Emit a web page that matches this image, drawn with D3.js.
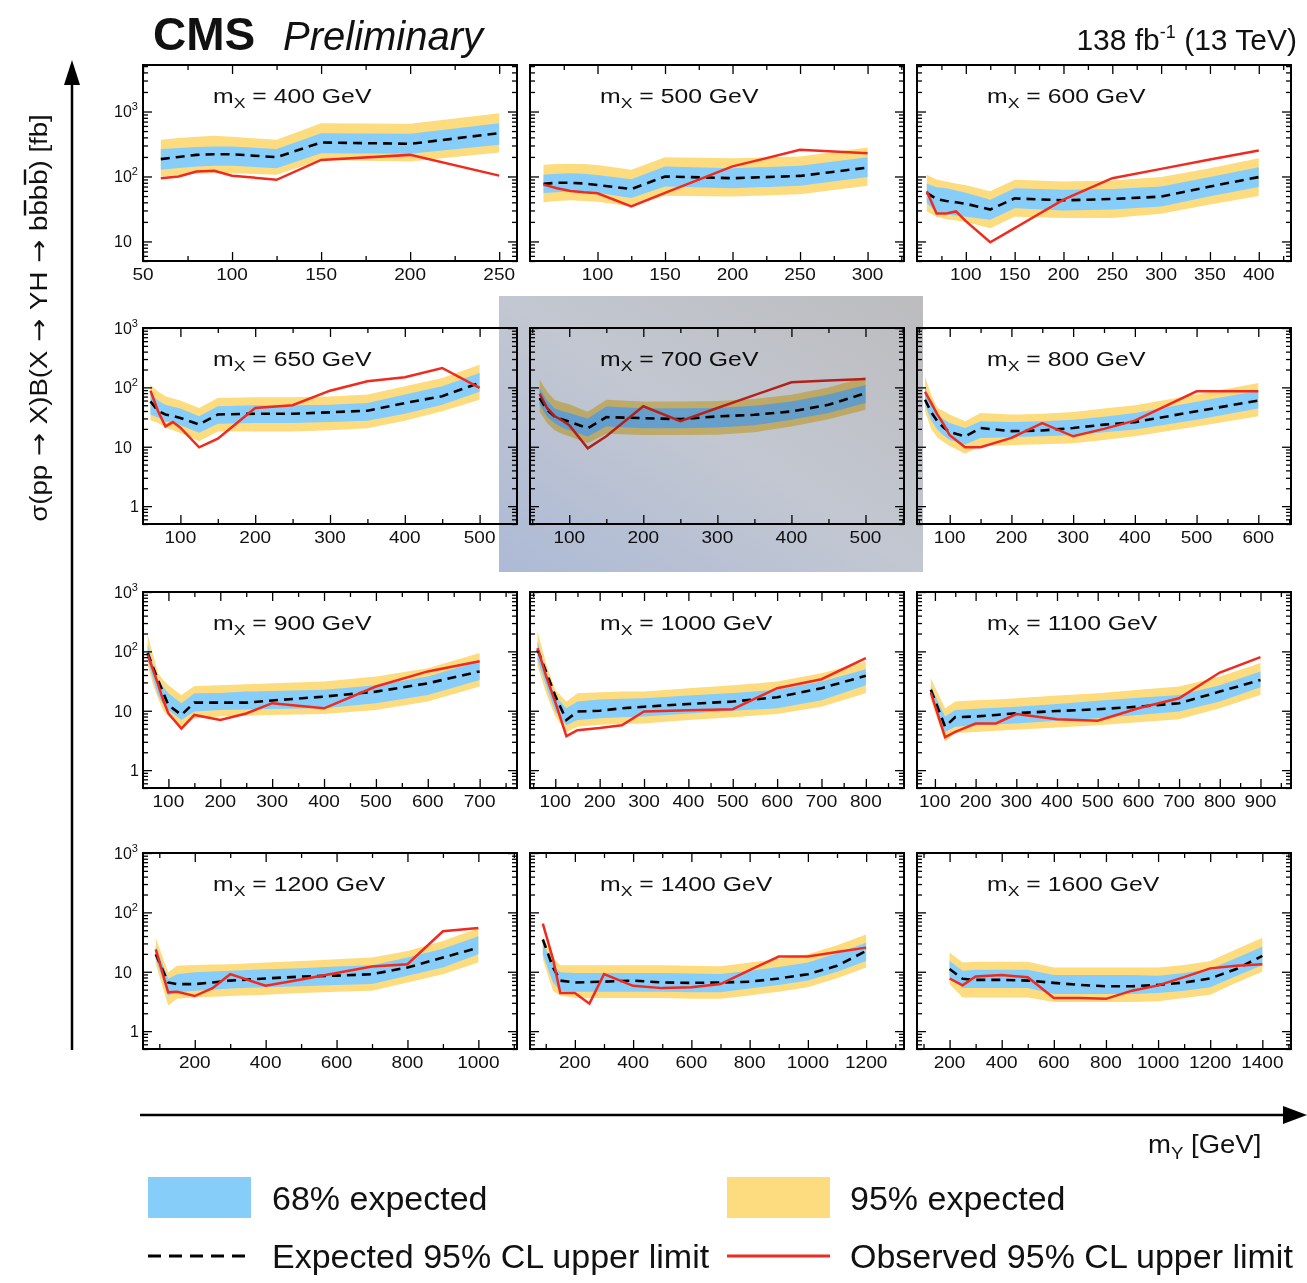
<!DOCTYPE html>
<html>
<head>
<meta charset="utf-8">
<script src="https://cdn.jsdelivr.net/npm/d3@7"></script>
<style>
  body { margin: 0; background: #fff; }
  text { font-family: "Liberation Sans", Arial, Helvetica, sans-serif; fill: #111; }
</style>
</head>
<body>
<svg id="chart" width="1307" height="1283"></svg>
<script>
// m_X of each panel, left to right, top to bottom
const massX = [400, 500, 600, 650, 700, 800, 900, 1000, 1100, 1200, 1400, 1600];

// m_Y points of each panel
const massY = [
    [60, 70, 80, 90, 100, 125, 150, 200, 250],
    [60, 70, 80, 90, 100, 125, 150, 200, 250, 300],
    [60, 70, 80, 90, 100, 125, 150, 200, 250, 300, 350, 400],
    [60, 70, 80, 90, 100, 125, 150, 200, 250, 300, 350, 400, 450, 500],
    [60, 70, 80, 90, 100, 125, 150, 200, 250, 300, 350, 400, 450, 500],
    [60, 70, 80, 90, 100, 125, 150, 200, 250, 300, 350, 400, 500, 600],
    [60, 70, 80, 90, 100, 125, 150, 200, 250, 300, 400, 500, 600, 700],
    [60, 80, 100, 125, 150, 200, 250, 300, 400, 500, 600, 700, 800],
    [90, 125, 150, 200, 250, 300, 400, 500, 600, 700, 800, 900],
    [90, 125, 150, 200, 250, 300, 400, 500, 600, 700, 800, 900, 1000],
    [90, 125, 150, 200, 250, 300, 400, 500, 600, 700, 800, 900, 1000, 1100, 1200],
    [200, 250, 300, 400, 500, 600, 700, 800, 900, 1000, 1100, 1200, 1300, 1400]
];

// expected limit (fb)
const expected = [
    [185, 200, 215, 220, 220, 198, 334, 318, 464],
    [77, 80, 80, 78, 74, 64, 100, 94, 102, 137],
    [56, 45, 42, 40, 38, 31, 46, 43, 45, 49, 70, 98],
    [58, 40, 35, 33, 30.5, 23.7, 35, 36, 36, 38, 40.5, 54.5, 71, 119],
    [66, 42, 32.4, 29, 26.6, 20.5, 31.5, 30.3, 29.2, 32.4, 34.5, 39.3, 51, 80],
    [62, 38, 27, 21, 17.7, 15, 20.7, 18.3, 18.8, 20.7, 23.6, 26, 39.6, 60],
    [94, 55, 33, 20, 12.5, 8.5, 13.7, 13.7, 13.7, 14.9, 17.3, 21, 29, 46],
    [107, 44, 17.8, 7.0, 9.7, 10, 11, 11.7, 13, 14.3, 16.9, 24, 38.7],
    [22.5, 5.4, 7.8, 8, 8.5, 9.1, 9.9, 10.6, 11.7, 13.4, 21, 33],
    [19.7, 6.6, 6.2, 6.2, 6.6, 7.1, 7.7, 8.3, 8.6, 9.1, 11.8, 17.3, 25.5],
    [35, 11.8, 7.1, 6.6, 6.7, 6.8, 7.1, 6.6, 6.5, 6.6, 6.8, 7.7, 9.1, 12.6, 22.4],
    [11.1, 7.6, 7.3, 7.3, 7.1, 6.5, 6.0, 5.7, 5.7, 6.0, 6.6, 7.7, 11.1, 18.5]
];

// observed limit (fb)
const observed = [
    [94, 100, 119, 122, 103, 89, 180, 215, 103],
    [75, 66, 60, 57, 55, 34.5, 56, 143, 257, 228],
    [59, 27, 27, 29, 20.5, 9.7, 16, 44, 94, 131, 183, 251],
    [88, 40, 22, 26, 21, 9.8, 13.7, 45, 50, 88, 127, 148, 212, 98],
    [78, 45, 33, 28, 23, 9.4, 15, 48, 27, 45, 74, 122, 130, 138],
    [84, 55, 35, 24, 15.6, 9.8, 9.8, 14.1, 25, 15, 20, 27.5, 86, 86],
    [88, 50, 28, 15, 9.0, 5.0, 8.5, 7.0, 9.0, 13.4, 11.0, 25.6, 46, 68],
    [113, 37, 14, 3.74, 4.7, 5.1, 5.7, 9.7, 10.2, 10.6, 24, 34, 77],
    [20.2, 3.6, 4.4, 6.1, 6.1, 8.8, 7.2, 6.8, 11, 16.2, 44, 80],
    [23.9, 4.5, 4.6, 3.9, 5.3, 9.1, 5.8, 7.4, 9.5, 12.3, 13.4, 48, 54.8],
    [64.7, 16.3, 4.4, 4.4, 2.9, 9.1, 5.8, 5.3, 5.5, 6.2, 10.7, 18, 18, 21.6, 25.5],
    [7.7, 5.9, 8.3, 8.8, 8.1, 3.6, 3.6, 3.5, 4.8, 5.9, 8.1, 11.4, 12.6, 13.4]
];

// 95% band upper / lower
const hi95 = [
    [366, 390, 410, 422, 410, 366, 661, 646, 943],
    [151, 155, 157, 155, 150, 127, 198, 191, 203, 280],
    [106, 90, 84, 78, 73, 59, 89, 84, 87, 98, 134, 191],
    [111, 85, 71, 65, 60, 45, 66, 68, 68, 70, 75.5, 104, 144, 241],
    [134, 85, 62, 56, 52, 39, 62, 58, 58, 59, 64, 75, 100, 149],
    [153, 75, 45, 40, 34.8, 27, 37, 34.8, 36, 38.5, 44, 50, 75.5, 119],
    [191, 90, 43, 33, 27, 18.5, 26, 27, 28, 29, 31, 37.7, 52, 94],
    [218, 60, 22.5, 14.3, 19.8, 20.5, 21, 21, 24, 27, 31, 43, 67.7],
    [35.4, 11, 14.3, 15, 15.5, 16.2, 18, 19.8, 22.5, 25.6, 37.7, 63.5],
    [37.3, 9.8, 12.6, 13, 13.2, 13.4, 14.3, 15.2, 16.2, 17.3, 22.4, 32.9, 54.8],
    [39.8, 17.3, 12.9, 12.9, 12.9, 12.9, 12.9, 12.9, 12.6, 12.4, 14.3, 16.5, 19.7, 28, 42.4],
    [21, 14.3, 14.7, 14.7, 14.7, 11.8, 11.8, 11.8, 11.8, 11.8, 13, 15.2, 24, 37.3]
];
const lo95 = [
    [100, 105, 110, 112, 112, 106, 180, 170, 234],
    [40, 42, 43, 42, 41, 34.5, 50.5, 49, 53.5, 72],
    [29, 24, 22, 21, 20, 16, 24, 23, 23, 26.7, 37, 50],
    [28, 25, 21, 19, 17, 12.4, 18, 18, 18, 19, 20.5, 27.5, 39.6, 62],
    [39, 25, 19, 16.5, 15, 11.5, 16.5, 15.8, 15.8, 16, 17.5, 22, 29, 42],
    [39.6, 20, 14.3, 12, 10.3, 7.6, 10.3, 10.6, 11, 11.5, 13, 15, 22, 32.6],
    [59, 28, 16.2, 10, 8.0, 5.4, 7.4, 8, 8.2, 8.5, 8.8, 10.3, 14.3, 25.6],
    [57, 19, 8, 4.4, 5.4, 5.8, 6, 6.1, 7, 7.8, 8.8, 11.7, 19.8],
    [15.2, 3.0, 4.2, 4.4, 4.6, 4.8, 5.2, 5.7, 6.4, 7.2, 11, 18.5],
    [13.4, 2.7, 3.5, 3.7, 3.8, 3.9, 4.1, 4.4, 4.6, 4.8, 6.6, 9.1, 14.3],
    [16.3, 4.8, 4, 3.6, 3.6, 3.6, 3.6, 3.6, 3.5, 3.5, 4, 4.6, 5.5, 7.8, 11.8],
    [6.2, 3.7, 3.7, 3.7, 3.7, 3.1, 3.1, 3.1, 3.1, 3.2, 3.6, 4.1, 6.5, 10]
];

// 68% band upper / lower
const hi68 = [
    [264, 275, 285, 290, 290, 264, 464, 453, 661],
    [106, 110, 112, 110, 105, 91, 142, 134, 146, 198],
    [77, 68, 66, 61, 56, 44, 66, 62.5, 64, 70, 98, 139],
    [81, 60, 51, 47, 44, 32.6, 48, 50, 50, 51, 54.5, 75.5, 104, 175],
    [97, 60, 44.7, 40, 37, 30, 47.7, 44.7, 44.7, 45, 49, 58, 76, 110],
    [104, 52, 34.8, 29, 25, 20.7, 27, 26, 27, 28.6, 32, 37, 57, 88],
    [130, 62, 33, 25, 19.8, 13.4, 19.8, 20, 21, 21.5, 22.5, 27, 37.7, 68],
    [148, 45, 17.3, 11, 14.3, 15.5, 16, 16.2, 18, 20, 22.5, 31, 50.2],
    [25.6, 8, 10.3, 10.8, 11.2, 11.7, 13, 14.8, 16.5, 18.5, 27, 45.9],
    [27, 7.6, 9.1, 9.8, 10.1, 10.4, 11, 11.5, 12.2, 12.9, 17.3, 24.5, 39.8],
    [30.8, 13.4, 9.8, 9.5, 9.5, 9.5, 9.5, 9.5, 9.3, 9.2, 10.4, 12, 14.3, 20.5, 30.8],
    [15.2, 10.4, 10.8, 10.8, 10.8, 8.8, 8.8, 8.8, 8.8, 8.6, 9.5, 11.1, 17, 26.4]
];
const lo68 = [
    [127, 135, 142, 146, 146, 134, 228, 223, 307],
    [55.6, 57, 59, 58, 56, 46.5, 70, 66, 72, 98],
    [39, 28, 26, 25, 24, 21.6, 32.5, 30, 31, 34.5, 49.5, 69],
    [35, 31, 27, 25, 23, 17.2, 24.3, 25, 25, 26, 27.5, 36, 51, 84],
    [51, 32, 25, 21, 19, 14.9, 22, 20.5, 20.5, 21, 23, 28.4, 37, 54.4],
    [51, 28, 19.5, 15.5, 13, 10.9, 14, 14.5, 15, 15.6, 17.5, 19.5, 28.6, 44],
    [72, 35, 18.5, 13, 10.3, 7.0, 9.7, 10.3, 10.5, 10.7, 11, 13.4, 18.5, 33],
    [72, 25, 9.7, 5.7, 7, 7.5, 7.8, 8, 9, 10, 11, 15, 27],
    [17.3, 4.4, 5.4, 5.7, 5.9, 6.1, 6.8, 7.5, 8.5, 9.7, 14.3, 24.9],
    [16.3, 4, 4.5, 4.8, 5.0, 5.2, 5.5, 5.7, 6.0, 6.2, 8.6, 11.8, 19.7],
    [19.7, 6.6, 4.8, 4.6, 4.6, 4.6, 4.6, 4.6, 4.5, 4.5, 5.2, 6.0, 7.1, 10, 15.2],
    [8.1, 5.3, 5.3, 5.3, 5.3, 4.2, 4.2, 4.2, 4.2, 4.4, 4.8, 5.5, 8.5, 12.9]
];

// axis ranges and tick labels
const xDomains = [
    [50, 260], [50, 327], [50, 433],
    [50, 550], [47, 552], [47, 653],
    [51, 772], [43, 886], [56, 975],
    [54, 1109], [46, 1330], [75, 1510]
];
const xTicks = [
    [50, 100, 150, 200, 250],
    [100, 150, 200, 250, 300],
    [100, 150, 200, 250, 300, 350, 400],
    [100, 200, 300, 400, 500],
    [100, 200, 300, 400, 500],
    [100, 200, 300, 400, 500, 600],
    [100, 200, 300, 400, 500, 600, 700],
    [100, 200, 300, 400, 500, 600, 700, 800],
    [100, 200, 300, 400, 500, 600, 700, 800, 900],
    [200, 400, 600, 800, 1000],
    [200, 400, 600, 800, 1000, 1200],
    [200, 400, 600, 800, 1000, 1200, 1400]
];
const yDomainTop = [5, 5200];
const yDomainLow = [0.5, 1000];
const yLabelsTop = [10, 100, 1000];
const yLabelsLow = [1, 10, 100, 1000];

const svg = d3.select("#chart");
const colX = [143, 530, 917];
const rowY = [65, 328, 592, 853];
const panelW = 374;
const panelH = 196;
const blue = "#86cdf9";
const yellow = "#fddc80";
const red = "#ee2b1e";

svg.append("rect").attr("width", 1307).attr("height", 1283).attr("fill", "#fff");

function tickAxis(g, axis, values, size, transform) {
    const a = g.append("g")
        .attr("transform", transform)
        .call(axis.tickValues(values).tickSizeInner(-size).tickSizeOuter(0).tickFormat(""));
    a.select(".domain").remove();
    a.selectAll("line").attr("stroke", "#000").attr("stroke-width", 1.3);
}

function drawPanel(i) {
    const row = Math.floor(i / 3), col = i % 3;
    const g = svg.append("g").attr("transform", `translate(${colX[col]},${rowY[row]})`);

    const x = d3.scaleLinear().domain(xDomains[i]).range([0, panelW]);
    const y = d3.scaleLog().domain(row === 0 ? yDomainTop : yDomainLow).range([panelH, 0]);

    const pts = massY[i].map((m, k) => ({
        m: m,
        exp: expected[i][k],
        obs: observed[i][k],
        lo68: lo68[i][k], hi68: hi68[i][k],
        lo95: lo95[i][k], hi95: hi95[i][k]
    }));

    g.append("clipPath").attr("id", "clip" + i)
        .append("rect").attr("width", panelW).attr("height", panelH);
    const plot = g.append("g").attr("clip-path", `url(#clip${i})`);

    const band = (lo, hi) => d3.area().x(d => x(d.m)).y0(d => y(d[lo])).y1(d => y(d[hi]));
    const line = key => d3.line().x(d => x(d.m)).y(d => y(d[key]));

    plot.append("path").datum(pts).attr("d", band("lo95", "hi95")).attr("fill", yellow);
    plot.append("path").datum(pts).attr("d", band("lo68", "hi68")).attr("fill", blue);
    plot.append("path").datum(pts).attr("d", line("exp"))
        .attr("fill", "none").attr("stroke", "#000")
        .attr("stroke-width", 2.6).attr("stroke-dasharray", "9,6");
    plot.append("path").datum(pts).attr("d", line("obs"))
        .attr("fill", "none").attr("stroke", red).attr("stroke-width", 2.5);

    // x ticks, major at labels and minor halfway
    const majX = xTicks[i];
    const step = majX[1] - majX[0];
    const minX = d3.range(majX[0] - step, xDomains[i][1], step / 2)
        .filter(v => v > xDomains[i][0] && v < xDomains[i][1] && !majX.includes(v));
    tickAxis(g, d3.axisBottom(x), majX, 9, `translate(0,${panelH})`);
    tickAxis(g, d3.axisBottom(x), minX, 5, `translate(0,${panelH})`);
    tickAxis(g, d3.axisTop(x), majX, 9, null);
    tickAxis(g, d3.axisTop(x), minX, 5, null);

    // log y ticks
    const allY = y.ticks();
    const isMajor = v => Math.abs(Math.log10(v) - Math.round(Math.log10(v))) < 1e-6;
    const majY = allY.filter(isMajor);
    const minY = allY.filter(v => !isMajor(v));
    tickAxis(g, d3.axisLeft(y), majY, 9, null);
    tickAxis(g, d3.axisLeft(y), minY, 5, null);
    tickAxis(g, d3.axisRight(y), majY, 9, `translate(${panelW},0)`);
    tickAxis(g, d3.axisRight(y), minY, 5, `translate(${panelW},0)`);

    g.append("rect").attr("width", panelW).attr("height", panelH)
        .attr("fill", "none").attr("stroke", "#000").attr("stroke-width", 2);

    // x tick labels
    majX.forEach(v => {
        g.append("text")
            .attr("transform", `translate(${x(v)},${panelH + 19}) scale(1.12,1)`)
            .attr("text-anchor", "middle")
            .attr("font-size", 17)
            .text(v);
    });

    // y tick labels on the first column
    if (col === 0) {
        (row === 0 ? yLabelsTop : yLabelsLow).forEach(v => {
            const p = Math.round(Math.log10(v));
            const t = g.append("text")
                .attr("x", p === 0 ? -13 : -29)
                .attr("y", y(v))
                .attr("dy", "0.36em")
                .attr("font-size", 16);
            if (p <= 1) {
                t.text(v);
            } else {
                t.append("tspan").text("10");
                t.append("tspan").attr("font-size", 11).attr("dy", -7).text(p);
            }
        });
    }

    // panel title
    const title = g.append("text")
        .attr("transform", "translate(70,38) scale(1.18,1)")
        .attr("font-size", 21);
    title.append("tspan").text("m");
    title.append("tspan").attr("font-size", 15).attr("dy", 5).text("X");
    title.append("tspan").attr("dy", -5).text(` = ${massX[i]} GeV`);
}

massX.forEach((d, i) => drawPanel(i));

// header
svg.append("text").attr("x", 153).attr("y", 50)
    .attr("font-size", 46).attr("font-weight", "bold").text("CMS");
svg.append("text").attr("x", 283).attr("y", 50)
    .attr("font-size", 40).attr("font-style", "italic").text("Preliminary");
const lumi = svg.append("text").attr("x", 1297).attr("y", 50)
    .attr("font-size", 30).attr("text-anchor", "end");
lumi.append("tspan").text("138 fb");
lumi.append("tspan").attr("font-size", 18).attr("dy", -12).text("-1");
lumi.append("tspan").attr("dy", 12).text(" (13 TeV)");

// y axis arrow and title
svg.append("line").attr("x1", 72).attr("y1", 1050).attr("x2", 72).attr("y2", 80)
    .attr("stroke", "#000").attr("stroke-width", 2.5);
svg.append("polygon").attr("points", "72,60 64,85 80,85").attr("fill", "#000");
const ytitle = svg.append("text")
    .attr("transform", "translate(47,318) rotate(-90) scale(1.15,1)")
    .attr("text-anchor", "middle")
    .attr("font-size", 24);
const arrow = () => ytitle.append("tspan").style("font-family", "'DejaVu Sans'").text(" → ");
ytitle.append("tspan").text("σ(pp");
arrow();
ytitle.append("tspan").text("X)B(X");
arrow();
ytitle.append("tspan").text("YH");
arrow();
ytitle.append("tspan").text("b");
ytitle.append("tspan").style("text-decoration", "overline").text("b");
ytitle.append("tspan").text("b");
ytitle.append("tspan").style("text-decoration", "overline").text("b");
ytitle.append("tspan").text(") [fb]");

// x axis arrow and title
svg.append("line").attr("x1", 140).attr("y1", 1115).attr("x2", 1288).attr("y2", 1115)
    .attr("stroke", "#000").attr("stroke-width", 2.5);
svg.append("polygon").attr("points", "1307,1115 1283,1106 1283,1124").attr("fill", "#000");
const xtitle = svg.append("text")
    .attr("transform", "translate(1148,1153) scale(1.1,1)")
    .attr("font-size", 25);
xtitle.append("tspan").text("m");
xtitle.append("tspan").attr("font-size", 17).attr("dy", 6).text("Y");
xtitle.append("tspan").attr("dy", -6).text(" [GeV]");

// legend
svg.append("rect").attr("x", 148).attr("y", 1177).attr("width", 103).attr("height", 41).attr("fill", blue);
svg.append("rect").attr("x", 727).attr("y", 1177).attr("width", 103).attr("height", 41).attr("fill", yellow);
svg.append("line").attr("x1", 148).attr("x2", 251).attr("y1", 1256).attr("y2", 1256)
    .attr("stroke", "#000").attr("stroke-width", 3).attr("stroke-dasharray", "13,8");
svg.append("line").attr("x1", 727).attr("x2", 830).attr("y1", 1256).attr("y2", 1256)
    .attr("stroke", red).attr("stroke-width", 3);
[["68% expected", 272, 1210], ["95% expected", 850, 1210],
 ["Expected 95% CL upper limit", 272, 1268], ["Observed 95% CL upper limit", 850, 1268]]
    .forEach(([t, lx, ly]) => {
        svg.append("text").attr("x", lx).attr("y", ly).attr("font-size", 34).text(t);
    });

// grey highlight box over the m_X = 700 GeV panel
const grad = svg.append("defs").append("linearGradient")
    .attr("id", "hl").attr("x1", 0).attr("y1", 1).attr("x2", 1).attr("y2", 0);
grad.append("stop").attr("offset", 0).attr("stop-color", "#adbad6");
grad.append("stop").attr("offset", 0.5).attr("stop-color", "#c2c7d1");
grad.append("stop").attr("offset", 1).attr("stop-color", "#bcbcbe");
svg.append("rect").attr("x", 499).attr("y", 296).attr("width", 424).attr("height", 276)
    .attr("fill", "url(#hl)").style("mix-blend-mode", "multiply");
</script>
</body>
</html>
